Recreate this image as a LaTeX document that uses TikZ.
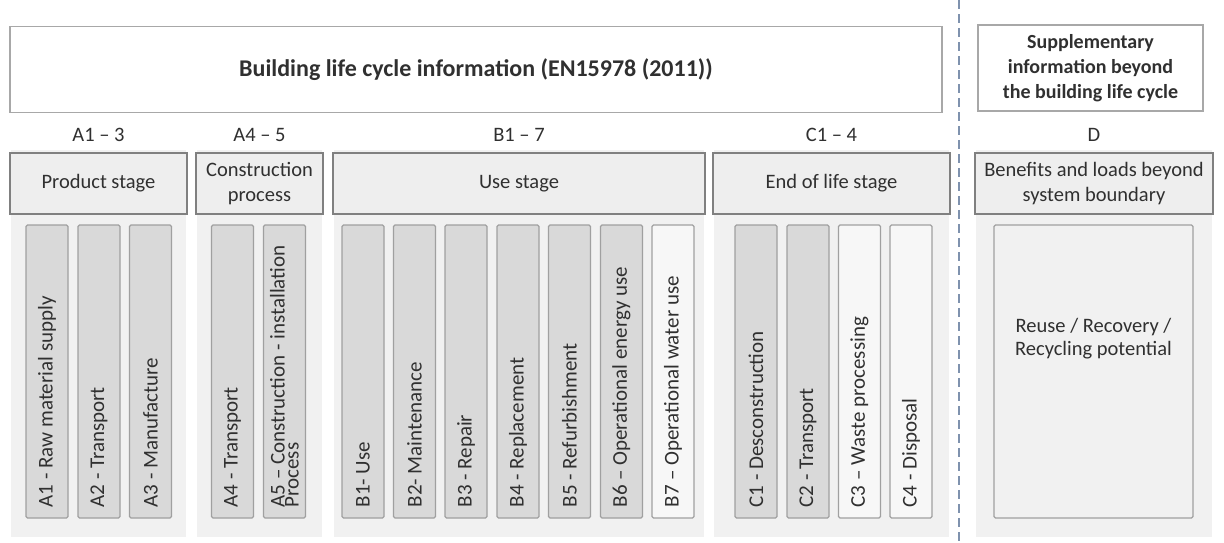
\documentclass[tikz,border=0pt]{standalone}
\usepackage{fontspec}
\setmainfont{Carlito}
\definecolor{txt}{HTML}{303030}
\definecolor{panelbg}{HTML}{F1F1F1}
\definecolor{stagefill}{HTML}{EEEEEE}
\definecolor{stageline}{HTML}{808080}
\definecolor{stripdark}{HTML}{D9D9D9}
\definecolor{striplight}{HTML}{F7F7F7}
\definecolor{stripline}{HTML}{A0A0A0}
\definecolor{topline}{HTML}{A8A8A8}
\definecolor{dashcol}{HTML}{7F92AE}
\begin{document}
\begin{tikzpicture}[x=1pt,y=-1pt,
  every node/.style={text=txt, inner sep=0pt},
  topbox/.style={draw=topline, line width=1.5pt, fill=white, minimum height=86pt, font=\fontsize{20}{25}\selectfont\bfseries, align=center},
  panel/.style={fill=panelbg, draw=none, minimum height=387pt},
  stagebox/.style={draw=stageline, line width=2pt, fill=stagefill, minimum height=61pt, font=\fontsize{20.5}{25}\selectfont, align=center},
  grouplabel/.style={font=\fontsize{20.5}{23}\selectfont},
  strip/.style={draw=stripline, line width=1.2pt, rounded corners=1.5pt, minimum width=42pt, minimum height=293pt},
  darkstrip/.style={strip, fill=stripdark},
  lightstrip/.style={strip, fill=striplight},
  striptext/.style={rotate=90, anchor=west, font=\fontsize{21}{14}\selectfont, align=left},
  dashline/.style={draw=dashcol, line width=2pt, dash pattern=on 9pt off 5pt}
]
\useasboundingbox (0,0) rectangle (1224,542);
\fill[white] (0,0) rectangle (1224,542);

% background panels
\node[panel, minimum width=175pt] (p1) at (98.5,343) {};
\node[panel, minimum width=125pt] (p2) at (259.5,343) {};
\node[panel, minimum width=370pt] (p3) at (519,343) {};
\node[panel, minimum width=235pt] (p4) at (831.5,343) {};
\node[panel, minimum width=236pt] (p5) at (1094,343) {};

% top boxes
\node[topbox, minimum width=932pt, font=\fontsize{24}{28}\selectfont\bfseries] (top) at (476,69.5) {Building life cycle information (EN15978 (2011))};
\node[topbox, minimum width=225pt] (supp) at (1090.5,68) {Supplementary\\information beyond\\the building life cycle};

% group labels
\node[grouplabel] (la) at (98.5,135) {A1 -- 3};
\node[grouplabel] (lb) at (259.5,135) {A4 -- 5};
\node[grouplabel] (lc) at (519,135) {B1 -- 7};
\node[grouplabel] (ld) at (831.5,135) {C1 -- 4};
\node[grouplabel] (le) at (1094,135) {D};

% stage boxes
\node[stagebox, minimum width=177pt] (s1) at (98.5,183.5) {Product stage};
\node[stagebox, minimum width=127pt] (s2) at (259.5,183.5) {Construction\\process};
\node[stagebox, minimum width=372pt] (s3) at (519,183.5) {Use stage};
\node[stagebox, minimum width=237pt] (s4) at (831.5,183.5) {End of life stage};
\node[stagebox, minimum width=238pt] (s5) at (1094,183.5) {Benefits and loads beyond\\system boundary};

% strips
\node[darkstrip] (A1) at (47,371.5) {};
\node[darkstrip] (A2) at (99,371.5) {};
\node[darkstrip] (A3) at (150.5,371.5) {};
\node[darkstrip] (A4) at (232.5,371.5) {};
\node[darkstrip] (A5) at (284.5,371.5) {};
\node[darkstrip] (B1) at (363,371.5) {};
\node[darkstrip] (B2) at (414.5,371.5) {};
\node[darkstrip] (B3) at (466,371.5) {};
\node[darkstrip] (B4) at (518,371.5) {};
\node[darkstrip] (B5) at (569.5,371.5) {};
\node[darkstrip] (B6) at (621.5,371.5) {};
\node[lightstrip] (B7) at (673,371.5) {};
\node[darkstrip] (C1) at (756,371.5) {};
\node[darkstrip] (C2) at (808,371.5) {};
\node[lightstrip] (C3) at (859.5,371.5) {};
\node[lightstrip] (C4) at (911,371.5) {};

\node[striptext] (tA1) at ([yshift=11pt]A1.south) {A1 - Raw material supply};
\node[striptext] (tA2) at ([yshift=11pt]A2.south) {A2 - Transport};
\node[striptext] (tA3) at ([yshift=11pt]A3.south) {A3 - Manufacture};
\node[striptext] (tA4) at ([yshift=11pt]A4.south) {A4 - Transport};
\node[striptext] (tA5) at ([yshift=11pt]A5.south) {A5 -- Construction - installation\\Process};
\node[striptext] (tB1) at ([yshift=11pt]B1.south) {B1- Use};
\node[striptext] (tB2) at ([yshift=11pt]B2.south) {B2- Maintenance};
\node[striptext] (tB3) at ([yshift=11pt]B3.south) {B3 - Repair};
\node[striptext] (tB4) at ([yshift=11pt]B4.south) {B4 - Replacement};
\node[striptext] (tB5) at ([yshift=11pt]B5.south) {B5 - Refurbishment};
\node[striptext] (tB6) at ([yshift=11pt]B6.south) {B6 -- Operational energy use};
\node[striptext] (tB7) at ([yshift=11pt]B7.south) {B7 -- Operational water use};
\node[striptext] (tC1) at ([yshift=11pt]C1.south) {C1 - Desconstruction};
\node[striptext] (tC2) at ([yshift=11pt]C2.south) {C2 - Transport};
\node[striptext] (tC3) at ([yshift=11pt]C3.south) {C3 -- Waste processing};
\node[striptext] (tC4) at ([yshift=11pt]C4.south) {C4 - Disposal};

% D content box
\node[draw=stripline, line width=1.2pt, rounded corners=1.5pt, fill=panelbg, minimum width=199pt, minimum height=293pt] (D) at (1093.5,371.5) {};
\node[font=\fontsize{20.5}{23}\selectfont, align=center] (tD) at (1093.5,338.5) {Reuse / Recovery /\\Recycling potential};

% dashed separator
\coordinate (dtop) at (959,0);
\coordinate (dbot) at (959,542);
\draw[dashline] (dtop) -- (dbot);
\end{tikzpicture}
\end{document}
